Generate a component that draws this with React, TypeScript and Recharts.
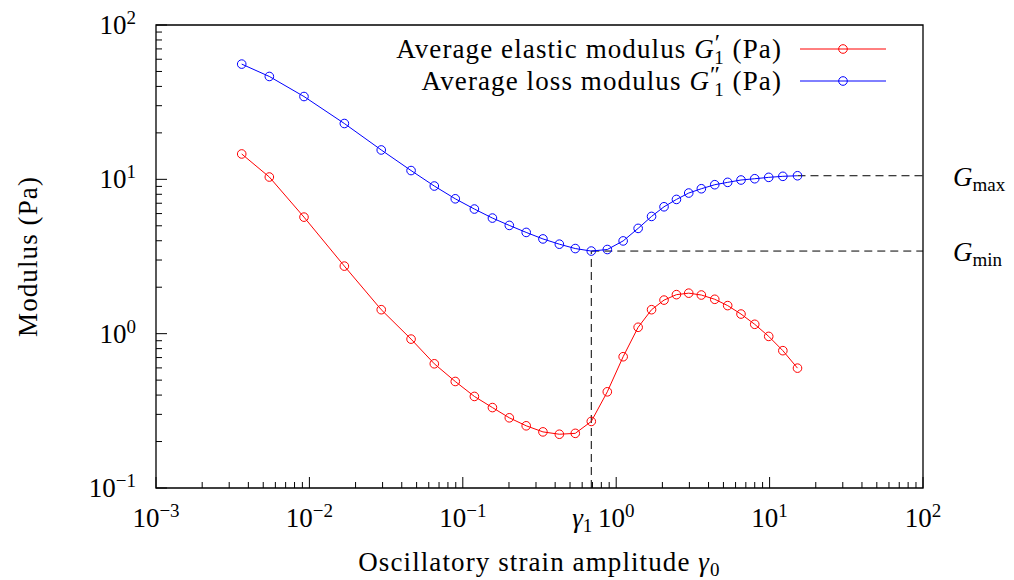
import { Line, LineChart, ReferenceArea, ReferenceLine, XAxis, YAxis } from "recharts";

// strain amplitude gamma_0 (same for both series)
const strain = [
  0.00362, 0.00548, 0.00922, 0.0169, 0.0294, 0.046, 0.0652, 0.0893, 0.119, 0.156,
  0.201, 0.259, 0.333, 0.426, 0.541, 0.688, 0.875, 1.11, 1.39, 1.7, 2.05, 2.47,
  2.97, 3.59, 4.39, 5.33, 6.51, 8.0, 9.87, 12.2, 15.2,
];
// average elastic modulus G'_1 (Pa)
const elastic = [
  14.6, 10.35, 5.69, 2.74, 1.43, 0.922, 0.638, 0.49, 0.392, 0.332, 0.285, 0.253,
  0.231, 0.223, 0.226, 0.27, 0.42, 0.709, 1.1, 1.43, 1.65, 1.79, 1.83, 1.78, 1.67,
  1.52, 1.34, 1.15, 0.96, 0.776, 0.598,
];
// average loss modulus G''_1 (Pa)
const loss = [
  55.8, 46.4, 34.4, 23.0, 15.5, 11.4, 9.05, 7.48, 6.42, 5.61, 5.03, 4.53, 4.11,
  3.8, 3.56, 3.43, 3.51, 3.99, 4.81, 5.75, 6.64, 7.41, 8.15, 8.69, 9.23, 9.56, 9.9,
  10.09, 10.3, 10.46, 10.55,
];

const gamma1 = 0.688;
const gMin = 3.43;
const gMax = 10.55;

const xDecades = [-3, -2, -1, 0, 1, 2];
const yDecades = [-1, 0, 1, 2];

const legendItems = [
  { label: "Average elastic modulus ", prime: "\u2032", color: "#ff0000" },
  { label: "Average loss modulus ", prime: "\u2033", color: "#0000ff" },
];

const FONT = "'Liberation Serif', 'Times New Roman', serif";
const SPACING = 1.1;

const data = strain.map((x, i) => ({ x, elastic: elastic[i], loss: loss[i] }));

function logTicks(decades: number[]) {
  const out: number[] = [];
  decades.forEach((d, i) => {
    out.push(Math.pow(10, d));
    if (i < decades.length - 1) {
      for (let k = 2; k <= 9; k++) out.push(k * Math.pow(10, d));
    }
  });
  return out;
}

const isMajor = (v: number) =>
  Math.abs(Math.log10(v) - Math.round(Math.log10(v))) < 1e-9;
const expText = (v: number) => {
  const e = Math.round(Math.log10(v));
  return e < 0 ? `\u2212${-e}` : `${e}`;
};

function XTick({ x, y, payload }: any) {
  const v = payload.value;
  const major = isMajor(v);
  return (
    <g>
      <line x1={x} x2={x} y1={y} y2={y - (major ? 11 : 6)} stroke="#000" />
      {major && (
        <text x={x} y={y + 39} textAnchor="middle" fontFamily={FONT} fontSize={27} fill="#000">
          10
          <tspan dy={-10} fontSize={19}>
            {expText(v)}
          </tspan>
        </text>
      )}
    </g>
  );
}

function YTick({ x, y, payload }: any) {
  const v = payload.value;
  const major = isMajor(v);
  return (
    <g>
      <line x1={x} x2={x + (major ? 11 : 6)} y1={y} y2={y} stroke="#000" />
      {major && (
        <text x={x - 20} y={y + 9} textAnchor="end" fontFamily={FONT} fontSize={27} fill="#000">
          10
          <tspan dy={-10} fontSize={19}>
            {expText(v)}
          </tspan>
        </text>
      )}
    </g>
  );
}

function XTitle({ viewBox }: any) {
  const { x, y, width } = viewBox;
  return (
    <text
      x={x + width / 2}
      y={y + 83}
      textAnchor="middle"
      fontFamily={FONT}
      fontSize={27}
      letterSpacing={SPACING}
      fill="#000"
    >
      Oscillatory strain amplitude <tspan fontStyle="italic">γ</tspan>
      <tspan fontSize={19} dy={5}>0</tspan>
    </text>
  );
}

function YTitle({ viewBox }: any) {
  const { y, height } = viewBox;
  const cy = y + height / 2;
  return (
    <text
      x={37}
      y={cy}
      transform={`rotate(-90 37 ${cy})`}
      textAnchor="middle"
      fontFamily={FONT}
      fontSize={27}
      letterSpacing={SPACING}
      fill="#000"
    >
      Modulus (Pa)
    </text>
  );
}

function SideLabel({ viewBox, sub }: any) {
  const { x, y, width } = viewBox;
  return (
    <text x={x + width + 30} y={y + 10} fontFamily={FONT} fontSize={27} fill="#000">
      <tspan fontStyle="italic">G</tspan>
      <tspan fontSize={19} dy={5}>
        {sub}
      </tspan>
    </text>
  );
}

function GammaLabel({ viewBox }: any) {
  const { x, y, height } = viewBox;
  return (
    <text x={x + 1} y={y + height + 39} textAnchor="end" fontFamily={FONT} fontSize={27} fill="#000">
      <tspan fontStyle="italic">γ</tspan>
      <tspan fontSize={19} dy={5}>
        1
      </tspan>
    </text>
  );
}

export default function App() {
  return (
    <div style={{ position: "absolute", left: 0, top: 0, width: 1014, height: 580, background: "#fff" }}>
      <LineChart width={1014} height={580} data={data} margin={{ top: 25, right: 91, bottom: 0, left: 0 }}>
        <XAxis
          dataKey="x"
          type="number"
          scale="log"
          domain={[0.001, 100]}
          allowDataOverflow
          ticks={logTicks(xDecades)}
          interval={0}
          height={92}
          tickSize={0}
          tickMargin={0}
          tickLine={false}
          axisLine={false}
          tick={<XTick />}
          label={<XTitle />}
        />
        <YAxis
          type="number"
          scale="log"
          domain={[0.1, 100]}
          allowDataOverflow
          ticks={logTicks(yDecades)}
          interval={0}
          width={156}
          tickSize={0}
          tickMargin={0}
          tickLine={false}
          axisLine={false}
          tick={<YTick />}
          label={<YTitle />}
        />
        <ReferenceArea x1={0.001} x2={100} y1={0.1} y2={100} fill="none" stroke="#000" strokeWidth={1.3} />
        <ReferenceLine
          segment={[{ x: gamma1, y: 0.1 }, { x: gamma1, y: gMin }]}
          stroke="#000"
          strokeDasharray="8 5"
          label={<GammaLabel />}
        />
        <ReferenceLine
          segment={[{ x: gamma1, y: gMin }, { x: 100, y: gMin }]}
          stroke="#000"
          strokeDasharray="8 5"
          label={<SideLabel sub="min" />}
        />
        <ReferenceLine
          segment={[{ x: strain[strain.length - 1], y: gMax }, { x: 100, y: gMax }]}
          stroke="#000"
          strokeDasharray="8 5"
          label={<SideLabel sub="max" />}
        />
        <Line
          dataKey="elastic"
          stroke="#ff0000"
          strokeWidth={1}
          dot={{ r: 4.3, fill: "none", stroke: "#ff0000", strokeWidth: 1 }}
          activeDot={false}
          isAnimationActive={false}
        />
        <Line
          dataKey="loss"
          stroke="#0000ff"
          strokeWidth={1}
          dot={{ r: 4.3, fill: "none", stroke: "#0000ff", strokeWidth: 1 }}
          activeDot={false}
          isAnimationActive={false}
        />
      </LineChart>
      <svg width={1014} height={580} style={{ position: "absolute", left: 0, top: 0, pointerEvents: "none" }}>
        {legendItems.map((it, i) => {
          const y = 49 + i * 32;
          return (
            <g key={it.label}>
              <text
                x={782}
                y={y + 9}
                textAnchor="end"
                fontFamily={FONT}
                fontSize={27}
                letterSpacing={SPACING}
                fill="#000"
              >
                {it.label}
                <tspan fontStyle="italic">G</tspan>
                <tspan fontSize={24} dy={-8}>
                  {it.prime}
                </tspan>
                <tspan fontSize={19} dx={-7} dy={14}>
                  1
                </tspan>
                <tspan dy={-6}> (Pa)</tspan>
              </text>
              <line x1={800} x2={886} y1={y} y2={y} stroke={it.color} />
              <circle cx={843} cy={y} r={4.3} fill="none" stroke={it.color} />
            </g>
          );
        })}
      </svg>
    </div>
  );
}
